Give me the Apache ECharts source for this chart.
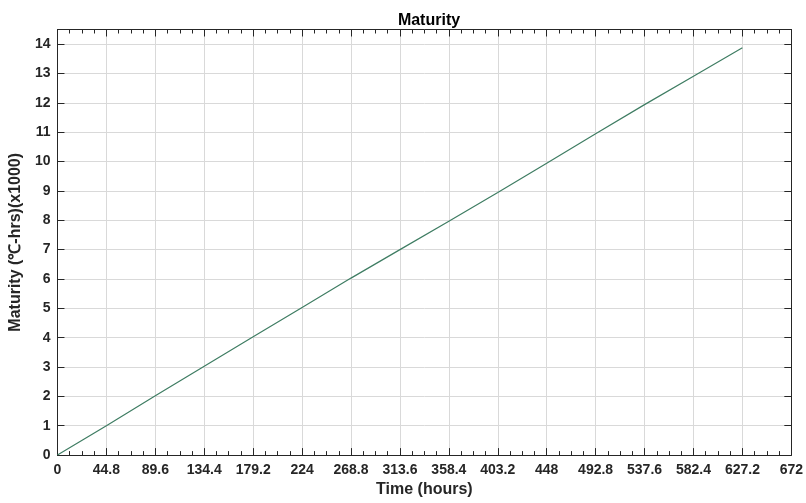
<!DOCTYPE html>
<html>
<head>
<meta charset="utf-8">
<script src="https://cdn.jsdelivr.net/npm/echarts@6/dist/echarts.min.js"></script>
<style>
  html, body { margin: 0; padding: 0; background: #fff; overflow: hidden; }
  #chart { width: 806px; height: 503px; }
</style>
</head>
<body>
<div id="chart"></div>
<script>
// Elapsed time (hours) and accumulated maturity (°C-hrs, in thousands)
const timeHours = [0, 44.8, 89.6, 134.4, 179.2, 224, 268.8, 313.6, 358.4, 403.2, 448, 492.8, 537.6, 582.4, 627.2];
const maturityK = [0, 1.00, 2.02, 3.03, 4.03, 5.03, 6.03, 7.00, 7.97, 8.95, 9.94, 10.95, 11.94, 12.91, 13.88];

// Axis settings
const xTickStep = 44.8;
const xMax = 672;
const yMax = 14.5;

const chartTitle = 'Maturity';
const xTitle = 'Time (hours)';
const yTitle = 'Maturity (\u2103-hrs)(x1000)';

const font = '"Liberation Sans", Arial, sans-serif';
const ink = '#262626';

const points = timeHours.map((t, i) => [t, maturityK[i]]);

function fmtX(v) {
  return String(Math.round(v * 10) / 10);
}

const chart = echarts.init(document.getElementById('chart'), null, { renderer: 'canvas', width: 806, height: 503 });

const baseX = {
  type: 'value',
  min: 0,
  max: xMax,
  interval: xTickStep,
  axisLine: { show: true, onZero: false, lineStyle: { color: ink, width: 1 } },
  axisTick: { show: true, inside: true, length: 7, lineStyle: { color: ink, width: 1 } },
  minorTick: { show: true, splitNumber: 4, length: 4, lineStyle: { color: ink, width: 1 } },
  splitLine: { show: false },
  minorSplitLine: { show: false }
};

const baseY = {
  type: 'value',
  min: 0,
  max: yMax,
  interval: 1,
  axisLine: { show: true, onZero: false, lineStyle: { color: ink, width: 1 } },
  axisTick: { show: true, inside: true, length: 7, lineStyle: { color: ink, width: 1 } },
  splitLine: { show: false }
};

chart.setOption({
  animation: false,
  backgroundColor: '#ffffff',
  title: {
    text: chartTitle,
    left: 424,
    top: 8,
    textAlign: 'center',
    textStyle: { fontFamily: font, fontSize: 16, fontWeight: 'bold', color: '#000' }
  },
  grid: { left: 55.5, top: 29.5, width: 738, height: 430.5, containLabel: false },
  xAxis: [
    Object.assign({}, baseX, {
      position: 'bottom',
      name: xTitle,
      nameLocation: 'middle',
      nameGap: 25,
      nameTextStyle: { fontFamily: font, fontSize: 16, fontWeight: 'bold', color: ink },
      splitLine: { show: true, lineStyle: { color: '#d9d9d9', width: 1 } },
      axisLabel: {
        show: true,
        margin: 8,
        fontFamily: font,
        fontSize: 14,
        fontWeight: 'bold',
        color: ink,
        formatter: fmtX
      }
    }),
    Object.assign({}, baseX, {
      position: 'top',
      axisLabel: { show: false }
    })
  ],
  yAxis: [
    Object.assign({}, baseY, {
      position: 'left',
      name: yTitle,
      nameLocation: 'middle',
      nameGap: 27,
      nameRotate: 90,
      nameTextStyle: { fontFamily: font, fontSize: 16, fontWeight: 'bold', color: ink },
      splitLine: { show: true, lineStyle: { color: '#d9d9d9', width: 1 } },
      axisLabel: {
        show: true,
        margin: 7,
        fontFamily: font,
        fontSize: 14,
        fontWeight: 'bold',
        color: ink,
        formatter: v => (Math.abs(v - Math.round(v)) < 1e-9 ? String(Math.round(v)) : '')
      }
    }),
    Object.assign({}, baseY, {
      position: 'right',
      axisLabel: { show: false }
    })
  ],
  series: [{
    type: 'line',
    xAxisIndex: 0,
    yAxisIndex: 0,
    data: points,
    showSymbol: false,
    symbol: 'none',
    smooth: false,
    lineStyle: { color: '#3f7d63', width: 1.2 },
    z: 5
  }]
});
</script>
</body>
</html>
